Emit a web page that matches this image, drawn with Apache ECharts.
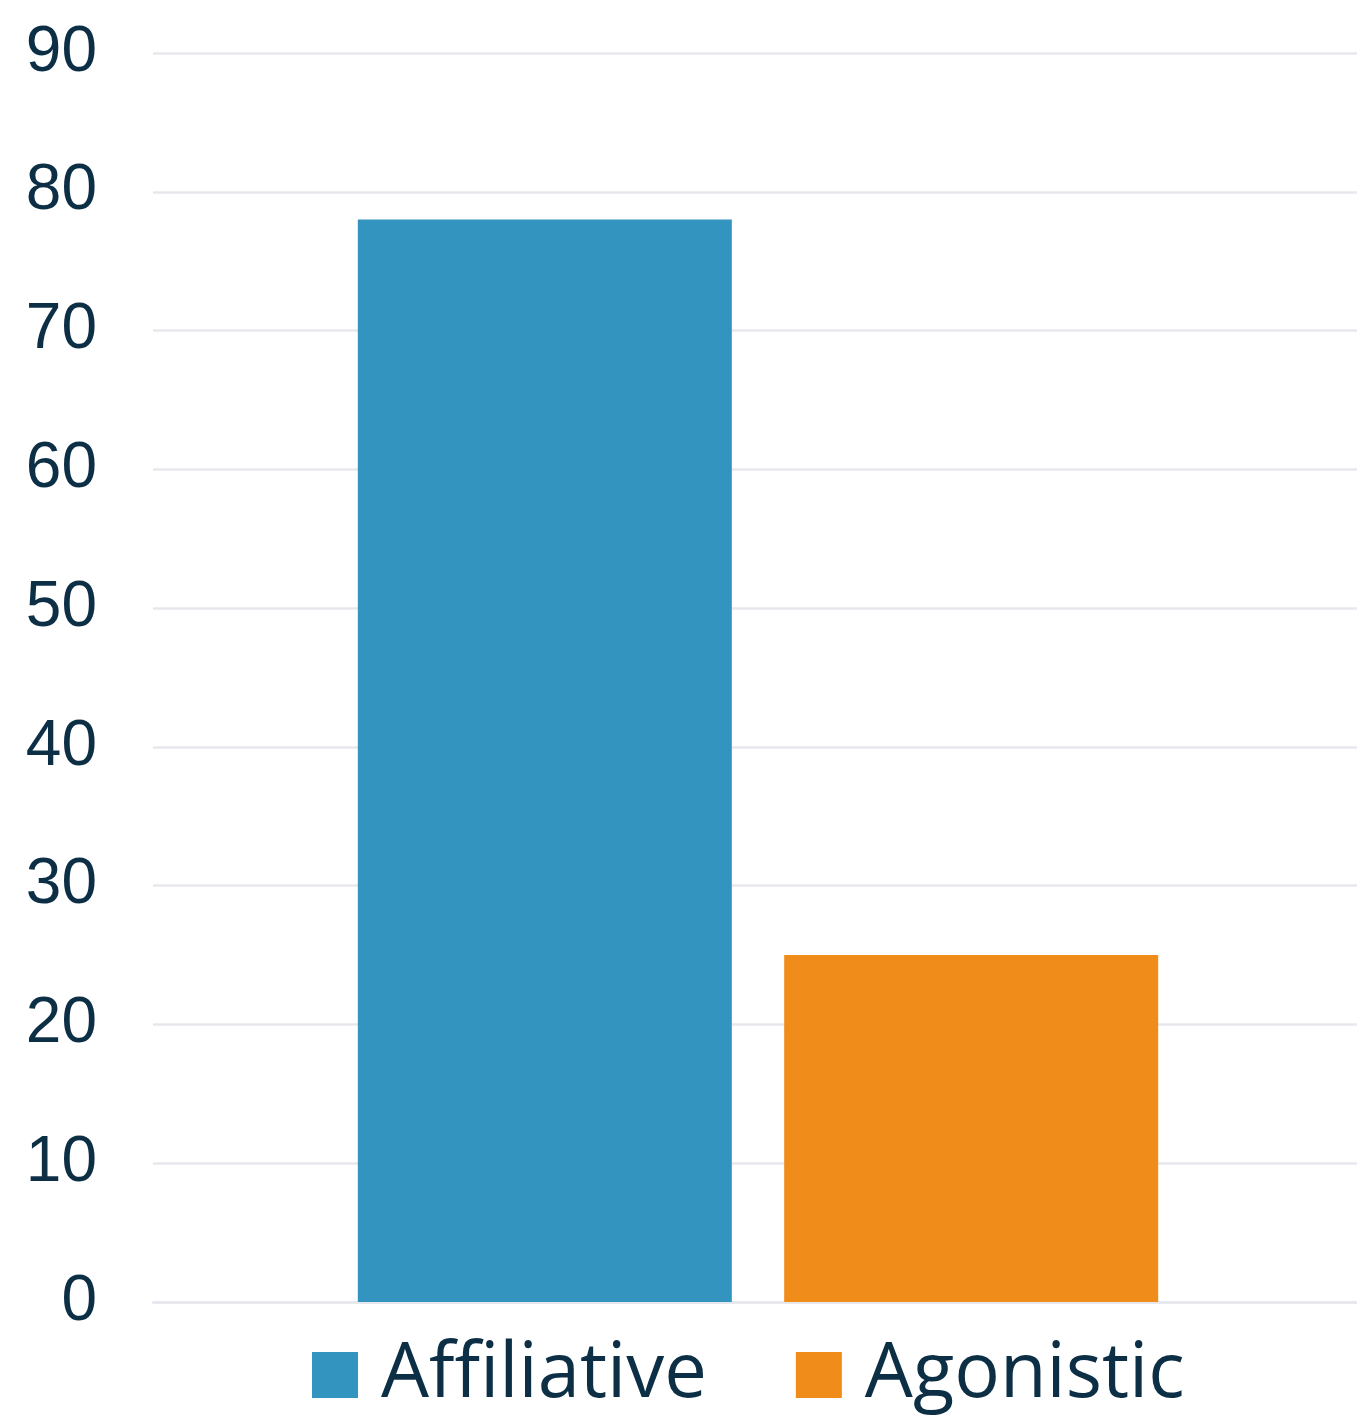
<!DOCTYPE html>
<html>
<head>
<meta charset="utf-8">
<script src="https://cdn.jsdelivr.net/npm/echarts@6/dist/echarts.min.js"></script>
<style>
  html, body { margin: 0; padding: 0; background: #fff; }
  #chart { width: 1357px; height: 1422px; }
</style>
</head>
<body>
<div id="chart"></div>
<script>
const categories = [''];
const seriesNames = ['Affiliative', 'Agonistic'];
const affiliative = [78];
const agonistic = [25];
const yTicks = { min: 0, max: 90, interval: 10 };

const textColor = '#0c2f46';
const gridColor = '#e6e8ee';

let mychart = echarts.init(document.getElementById('chart'));
let option = {
    backgroundColor: '#fff',
    animation: false,
    // grid 0 carries the gridlines and labels, grid 1 the bars (slightly offset like the original)
    grid: [
        { left: 153, right: 0, top: 53, bottom: 120 },
        { left: 159, right: 0, top: 53, bottom: 120 }
    ],
    legend: {
        data: seriesNames,
        bottom: 4,
        left: 307,
        itemWidth: 46,
        itemHeight: 46,
        itemGap: 89,
        icon: 'rect',
        textStyle: {
            color: textColor,
            fontSize: 76,
            fontFamily: 'Open Sans',
            padding: [0, 0, 0, 18]
        }
    },
    xAxis: [
        {
            type: 'category',
            gridIndex: 0,
            data: categories,
            axisLine: { lineStyle: { color: gridColor, width: 2.5 } },
            axisTick: { show: false },
            axisLabel: { show: false }
        },
        {
            type: 'category',
            gridIndex: 1,
            data: categories,
            axisLine: { show: false },
            axisTick: { show: false },
            axisLabel: { show: false }
        }
    ],
    yAxis: [
        {
            type: 'value',
            gridIndex: 0,
            min: yTicks.min,
            max: yTicks.max,
            interval: yTicks.interval,
            axisLine: { show: false },
            axisTick: { show: false },
            splitLine: { lineStyle: { color: gridColor, width: 2.5 } },
            axisLabel: {
                color: textColor,
                fontSize: 64,
                fontFamily: 'Liberation Sans',
                margin: 56
            }
        },
        {
            type: 'value',
            gridIndex: 1,
            min: yTicks.min,
            max: yTicks.max,
            interval: yTicks.interval,
            show: false,
            splitLine: { show: false }
        }
    ],
    series: [
        {
            name: seriesNames[0],
            type: 'bar',
            xAxisIndex: 1,
            yAxisIndex: 1,
            barWidth: 374,
            barGap: '14%',
            itemStyle: { color: '#3394c0' },
            data: affiliative
        },
        {
            name: seriesNames[1],
            type: 'bar',
            xAxisIndex: 1,
            yAxisIndex: 1,
            barWidth: 374,
            itemStyle: { color: '#f08c19' },
            data: agonistic
        }
    ]
};
mychart.setOption(option);
</script>
</body>
</html>
